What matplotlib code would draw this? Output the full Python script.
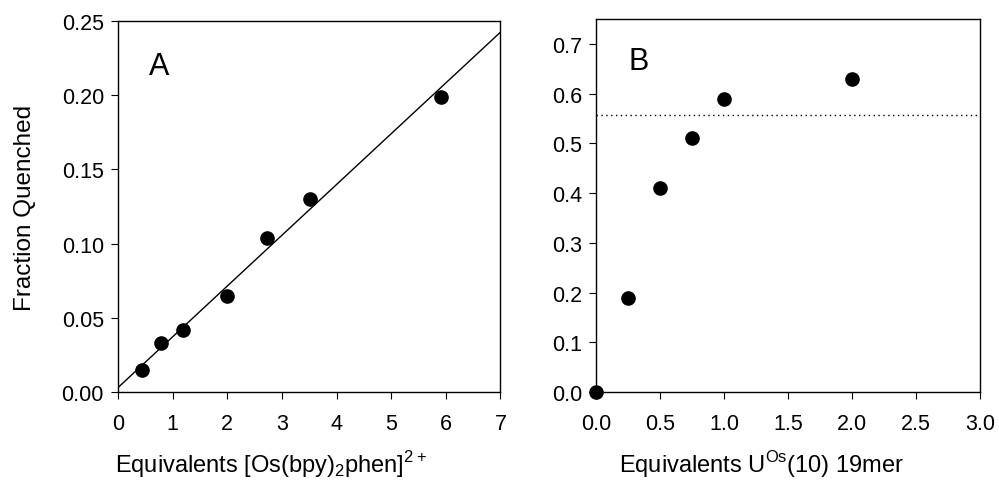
import numpy as np
import matplotlib.pyplot as plt

# panel A: quenching vs equivalents of free Os complex
eq_a = [0.45, 0.78, 1.2, 2.0, 2.72, 3.52, 5.92]
fq_a = [0.015, 0.033, 0.042, 0.065, 0.104, 0.130, 0.199]
fit_x = [0, 7]
fit_y = [0.003, 0.2425]

# panel B: quenching vs equivalents of U(Os) 19mer
eq_b = [0.0, 0.25, 0.5, 0.75, 1.0, 2.0]
fq_b = [0.0, 0.19, 0.41, 0.51, 0.59, 0.63]
plateau = 0.557

plt.rcParams['font.family'] = ['Liberation Sans', 'DejaVu Sans']
plt.rcParams['mathtext.fontset'] = 'custom'
plt.rcParams['mathtext.rm'] = 'Liberation Sans'

fig = plt.figure(figsize=(9.99, 4.89), dpi=100)
ax1 = fig.add_axes([0.118, 0.196, 0.383, 0.759])
ax2 = fig.add_axes([0.597, 0.196, 0.384, 0.763])

for ax in (ax1, ax2):
    ax.tick_params(direction='out', length=5, width=0.8, labelsize=15.5, pad=5)
    ax.tick_params(axis='x', pad=10)
    for s in ax.spines.values():
        s.set_linewidth(1.0)

# A
ax1.plot(fit_x, fit_y, color='black', lw=1.0)
ax1.plot(eq_a, fq_a, 'o', color='black', ms=9.5, clip_on=False)
ax1.set_xlim(0, 7)
ax1.set_ylim(0, 0.25)
ax1.set_xticks(np.arange(0, 8, 1))
ax1.set_yticks(np.arange(0, 0.26, 0.05))
ax1.set_yticklabels(['0.00', '0.05', '0.10', '0.15', '0.20', '0.25'])
ax1.set_ylabel('Fraction Quenched', fontsize=17.5)
ax1.yaxis.set_label_coords(-0.215, 0.5)
ax1.set_xlabel(r'Equivalents [Os(bpy)$_{\mathrm{2}}$phen]$^{\mathrm{2+}}$', fontsize=17)
ax1.xaxis.set_label_coords(0.4, -0.15)
ax1.text(0.08, 0.857, 'A', transform=ax1.transAxes, fontsize=22)

# B
ax2.axhline(plateau, color='black', lw=1.0, ls=(0, (1, 2.5)))
ax2.plot(eq_b, fq_b, 'o', color='black', ms=9.5, clip_on=False, zorder=5)
ax2.set_xlim(0, 3)
ax2.set_ylim(0, 0.75)
ax2.set_xticks(np.arange(0, 3.01, 0.5))
ax2.set_xticklabels(['0.0', '0.5', '1.0', '1.5', '2.0', '2.5', '3.0'])
ax2.set_yticks(np.arange(0, 0.71, 0.1))
ax2.set_yticklabels(['0.0', '0.1', '0.2', '0.3', '0.4', '0.5', '0.6', '0.7'])
ax2.set_xlabel(r'Equivalents U$^{\mathrm{Os}}$(10) 19mer', fontsize=17)
ax2.xaxis.set_label_coords(0.43, -0.15)
ax2.text(0.083, 0.866, 'B', transform=ax2.transAxes, fontsize=22)

plt.savefig('out.png', dpi=100)
